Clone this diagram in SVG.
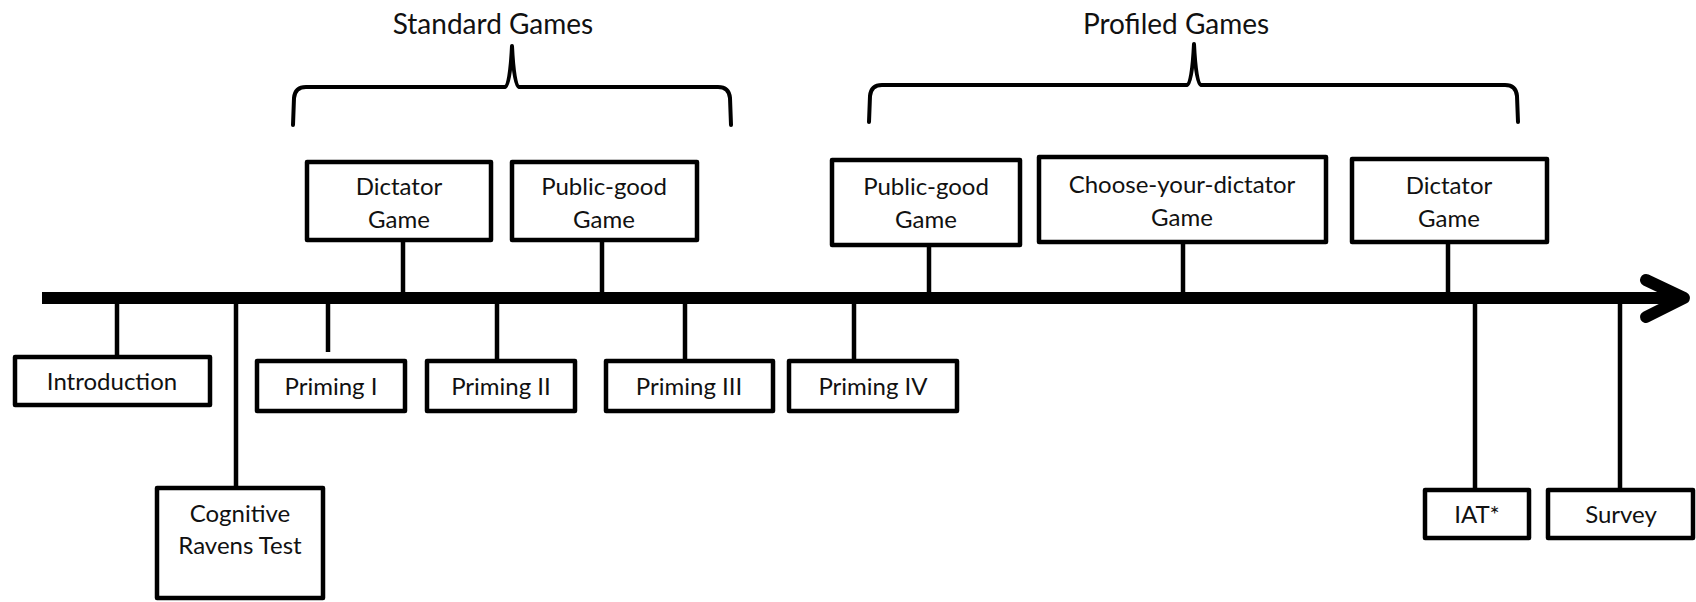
<svg xmlns="http://www.w3.org/2000/svg" width="1696" height="602" viewBox="0 0 1696 602">
<style>
.box{fill:#fff;stroke:#000;stroke-width:4.5;stroke-linejoin:round}
.stem{stroke:#000;stroke-width:4.5;fill:none}
.axis{stroke:#000;stroke-width:12;fill:none}
.brace{stroke:#000;stroke-width:4;fill:none;stroke-linejoin:round;stroke-linecap:round}
text{font-family:Lato,"Liberation Sans",sans-serif;font-size:24px;fill:#111;text-anchor:middle}
.title{font-size:28px}
</style>
<rect width="1696" height="602" fill="#fff"/>
<g id="brace-standard">
<path class="brace" d="M293,125 L294,98 Q295,87 306,87 L505,87 Q510,86 512,46 Q514,86 519,87 L718,87 Q729,87 730,98 L731,125"/>
<text class="title" x="493" y="34">Standard Games</text>
</g>
<g id="brace-profiled">
<path class="brace" d="M869,122 L870,96 Q871,85 882,85 L1187,85 Q1192,84 1194,44 Q1196,84 1201,85 L1505,85 Q1516,85 1517,96 L1518,122"/>
<text class="title" x="1176" y="34">Profiled Games</text>
</g>
<g id="connectors">
<line class="axis" x1="42" y1="298" x2="1682" y2="298"/>
<polyline points="1646,280 1684,298 1646,317" fill="none" stroke="#000" stroke-width="12" stroke-linecap="round" stroke-linejoin="round"/>
<line class="stem" x1="403" y1="242" x2="403" y2="294"/>
<line class="stem" x1="602" y1="242" x2="602" y2="294"/>
<line class="stem" x1="929" y1="247" x2="929" y2="294"/>
<line class="stem" x1="1183" y1="244" x2="1183" y2="294"/>
<line class="stem" x1="1448" y1="244" x2="1448" y2="294"/>
<line class="stem" x1="117" y1="302" x2="117" y2="357"/>
<line class="stem" x1="236" y1="302" x2="236" y2="488"/>
<line class="stem" x1="328" y1="302" x2="328" y2="352"/>
<line class="stem" x1="497" y1="302" x2="497" y2="361"/>
<line class="stem" x1="685" y1="302" x2="685" y2="361"/>
<line class="stem" x1="854" y1="302" x2="854" y2="361"/>
<line class="stem" x1="1475" y1="302" x2="1475" y2="490"/>
<line class="stem" x1="1620" y1="302" x2="1620" y2="490"/>
</g>
<g id="dictator-standard">
<rect class="box" x="307" y="162" width="184" height="78"/>
<text x="399" y="195">Dictator</text>
<text x="399" y="228">Game</text>
</g>
<g id="publicgood-standard">
<rect class="box" x="512" y="162" width="185" height="78"/>
<text x="604" y="195">Public-good</text>
<text x="604" y="228">Game</text>
</g>
<g id="publicgood-profiled">
<rect class="box" x="832" y="160" width="188" height="85"/>
<text x="926" y="195">Public-good</text>
<text x="926" y="228">Game</text>
</g>
<g id="choose-dictator">
<rect class="box" x="1039" y="157" width="287" height="85"/>
<text x="1182" y="193">Choose-your-dictator</text>
<text x="1182" y="226">Game</text>
</g>
<g id="dictator-profiled">
<rect class="box" x="1352" y="159" width="195" height="83"/>
<text x="1449" y="194">Dictator</text>
<text x="1449" y="227">Game</text>
</g>
<g id="introduction">
<rect class="box" x="15" y="357" width="195" height="48"/>
<text x="112" y="390">Introduction</text>
</g>
<g id="cognitive">
<rect class="box" x="157" y="488" width="166" height="110"/>
<text x="240" y="522">Cognitive</text>
<text x="240" y="554">Ravens Test</text>
</g>
<g id="priming-1">
<rect class="box" x="257" y="361" width="148" height="50"/>
<text x="331" y="395">Priming I</text>
</g>
<g id="priming-2">
<rect class="box" x="427" y="361" width="148" height="50"/>
<text x="501" y="395">Priming II</text>
</g>
<g id="priming-3">
<rect class="box" x="606" y="361" width="167" height="50"/>
<text x="689" y="395">Priming III</text>
</g>
<g id="priming-4">
<rect class="box" x="789" y="361" width="168" height="50"/>
<text x="873" y="395">Priming IV</text>
</g>
<g id="iat">
<rect class="box" x="1425" y="490" width="104" height="48"/>
<text x="1477" y="523">IAT*</text>
</g>
<g id="survey">
<rect class="box" x="1548" y="490" width="145" height="48"/>
<text x="1621" y="523">Survey</text>
</g>
</svg>
